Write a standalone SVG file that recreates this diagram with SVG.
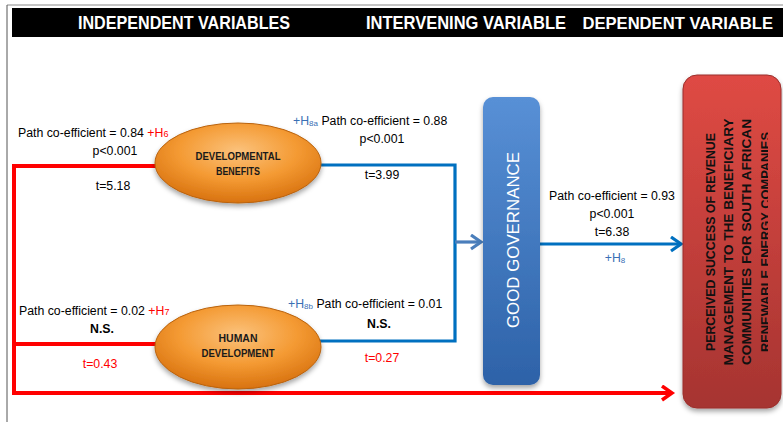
<svg xmlns="http://www.w3.org/2000/svg" width="783" height="422" viewBox="0 0 783 422">
<style>
.hdr{font-family:"Liberation Sans",Arial,sans-serif;font-weight:bold;font-size:19px;fill:#fff}
.t{font-family:"Liberation Sans",Arial,sans-serif;font-size:12.3px;fill:#000}
.b{font-weight:bold}
.red{fill:#ff0000}
.hb{fill:#3a6fb5}
.c{text-anchor:middle}
.el{font-family:"Liberation Sans",Arial,sans-serif;font-weight:bold;font-size:11px;fill:#1a1a1a;text-anchor:middle}
.rb{font-family:"Liberation Sans",Arial,sans-serif;font-weight:bold;font-size:13px;fill:#111;text-anchor:middle}
.gg{font-family:"Liberation Sans",Arial,sans-serif;font-size:16.5px;fill:#fff;text-anchor:middle}
.redl{fill:none;stroke:#ff0000;stroke-width:4}
.bluel{fill:none;stroke:#0070c0;stroke-width:3.2}
</style>
<defs>
<radialGradient id="og" cx="50%" cy="35%" r="65%">
<stop offset="0" stop-color="#fbc27c"/>
<stop offset="0.55" stop-color="#f49a33"/>
<stop offset="1" stop-color="#d8720f"/>
</radialGradient>
<linearGradient id="bg" x1="0" y1="0" x2="0" y2="1">
<stop offset="0" stop-color="#5890d6"/>
<stop offset="1" stop-color="#2d62a8"/>
</linearGradient>
<linearGradient id="rg" x1="0" y1="0" x2="0" y2="1">
<stop offset="0" stop-color="#df4a44"/>
<stop offset="1" stop-color="#a63431"/>
</linearGradient>
<filter id="sh" x="-20%" y="-20%" width="140%" height="140%">
<feDropShadow dx="0" dy="3" stdDeviation="2.5" flood-color="#000" flood-opacity="0.35"/>
</filter>
<marker id="ab" markerUnits="userSpaceOnUse" markerWidth="16" markerHeight="20" refX="12" refY="8" orient="auto">
<path d="M2,1 L12,8 L2,15" fill="none" stroke="#0070c0" stroke-width="3.2"/>
</marker>
<marker id="ab2" markerUnits="userSpaceOnUse" markerWidth="16" markerHeight="20" refX="12" refY="8" orient="auto">
<path d="M2,1 L12,8 L2,15" fill="none" stroke="#4a7ebb" stroke-width="3.2"/>
</marker>
<marker id="ar" markerUnits="userSpaceOnUse" markerWidth="16" markerHeight="20" refX="12" refY="8" orient="auto">
<path d="M2,1 L12,8 L2,15" fill="none" stroke="#ff0000" stroke-width="3.5"/>
</marker>
<clipPath id="rclip"><rect x="683" y="75" width="85" height="333"/></clipPath>
</defs>
<rect width="783" height="422" fill="#fff"/>
<line x1="7" y1="5" x2="783" y2="5" stroke="#8a8a8a" stroke-width="1"/>
<line x1="7" y1="5" x2="7" y2="422" stroke="#555" stroke-width="1"/>
<g id="header">
<rect x="12" y="8" width="771" height="29" fill="#000"/>
<text class="hdr" x="78" y="28.5" textLength="212" lengthAdjust="spacingAndGlyphs">INDEPENDENT VARIABLES</text>
<text class="hdr" x="366" y="28.5" textLength="200" lengthAdjust="spacingAndGlyphs">INTERVENING VARIABLE</text>
<text class="hdr" x="773" y="28.5" text-anchor="end" style="font-size:16.6px">DEPENDENT VARIABLE</text>
</g>
<g id="connectors">
<polyline class="redl" points="160,166 14,166 14,393 672,393" marker-end="url(#ar)"/>
<line class="redl" x1="14" y1="344" x2="160" y2="344"/>
<polyline class="bluel" points="318,165 455,165 455,341 318,341"/>
<line x1="455" y1="242" x2="481" y2="242" stroke="#4a7ebb" stroke-width="3.2" marker-end="url(#ab2)"/>
<line class="bluel" x1="540" y1="244" x2="681" y2="244" marker-end="url(#ab)"/>
</g>
<g id="developmental-benefits">
<ellipse cx="238" cy="163" rx="83" ry="40" fill="url(#og)" stroke="#b9620e" stroke-width="1" filter="url(#sh)"/>
<text class="el" x="238" y="160" textLength="85" lengthAdjust="spacingAndGlyphs">DEVELOPMENTAL</text>
<text class="el" x="238" y="175" textLength="44" lengthAdjust="spacingAndGlyphs">BENEFITS</text>
</g>
<g id="human-development">
<ellipse cx="238" cy="347" rx="83" ry="42" fill="url(#og)" stroke="#b9620e" stroke-width="1" filter="url(#sh)"/>
<text class="el" x="238" y="342" textLength="39" lengthAdjust="spacingAndGlyphs">HUMAN</text>
<text class="el" x="238" y="357" textLength="73" lengthAdjust="spacingAndGlyphs">DEVELOPMENT</text>
</g>
<g id="good-governance">
<rect x="483" y="97" width="57" height="288" rx="10" fill="url(#bg)" filter="url(#sh)"/>
<text class="gg" transform="translate(0,240) rotate(-90)" x="0" y="519" textLength="176" lengthAdjust="spacingAndGlyphs">GOOD GOVERNANCE</text>
</g>
<g id="perceived-success">
<rect x="683" y="75" width="98" height="333" rx="14" fill="url(#rg)" stroke="#9a2f2c" stroke-width="1" filter="url(#sh)"/>
<g clip-path="url(#rclip)">
<g transform="translate(0,242) rotate(-90)">
<text class="rb" x="0" y="714.5" textLength="218" lengthAdjust="spacingAndGlyphs">PERCEIVED SUCCESS OF REVENUE</text>
<text class="rb" x="0" y="732.5" textLength="247" lengthAdjust="spacingAndGlyphs">MANAGEMENT TO THE BENEFICIARY</text>
<text class="rb" x="0" y="751" textLength="246" lengthAdjust="spacingAndGlyphs">COMMUNITIES FOR SOUTH AFRICAN</text>
<text class="rb" x="0" y="769.5" textLength="220" lengthAdjust="spacingAndGlyphs">RENEWABLE ENERGY COMPANIES</text>
</g>
</g>
</g>
<g id="labels">
<text class="t" x="18" y="137">Path co-efficient = 0.84 <tspan class="red">+H<tspan font-size="9">6</tspan></tspan></text>
<text class="t c" x="115" y="155">p&lt;0.001</text>
<text class="t c" x="113" y="190">t=5.18</text>
<text class="t" x="293" y="125"><tspan class="hb">+H<tspan font-size="8" dy="1">8a</tspan></tspan><tspan dy="-1"> Path co-efficient = 0.88</tspan></text>
<text class="t c" x="382" y="143">p&lt;0.001</text>
<text class="t c" x="382" y="179">t=3.99</text>
<text class="t" x="19" y="315">Path co-efficient = 0.02 <tspan class="red">+H<tspan font-size="9">7</tspan></tspan></text>
<text class="t c b" x="102" y="333">N.S.</text>
<text class="t c red" x="100" y="368">t=0.43</text>
<text class="t" x="288" y="308"><tspan class="hb">+H<tspan font-size="8" dy="1">8b</tspan></tspan><tspan dy="-1"> Path co-efficient = 0.01</tspan></text>
<text class="t c b" x="379" y="328">N.S.</text>
<text class="t c red" x="382" y="362">t=0.27</text>
<text class="t c" x="612" y="200">Path co-efficient = 0.93</text>
<text class="t c" x="612" y="218">p&lt;0.001</text>
<text class="t c" x="612" y="236">t=6.38</text>
<text class="t c" x="615" y="262"><tspan class="hb">+H<tspan font-size="8" dy="1">8</tspan></tspan></text>
</g>
</svg>
